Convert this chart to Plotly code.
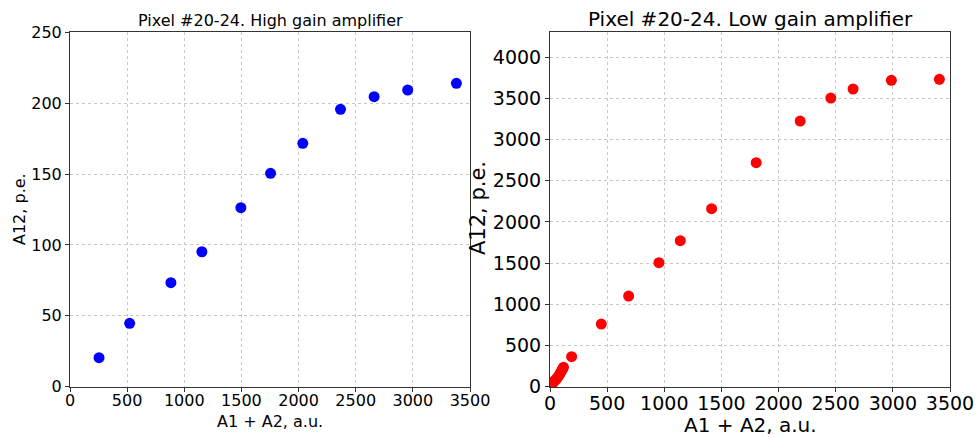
import plotly.graph_objects as go

# High gain amplifier data
hg_x = [254, 522, 883, 1154, 1495, 1755, 2037, 2367, 2661, 2955, 3381]
hg_y = [20.5, 44.7, 73.4, 95.2, 126.3, 150.5, 171.7, 195.7, 204.6, 209.3, 214.0]

# Low gain amplifier data
lg_x = [5, 12, 20, 30, 40, 50, 60, 70, 80, 90, 100, 110, 118,
        189, 449, 688, 953, 1140, 1414, 1804, 2189, 2457, 2652, 2987, 3407]
lg_y = [10, 25, 40, 55, 70, 85, 100, 120, 140, 165, 190, 215, 235,
        364, 760, 1100, 1505, 1772, 2160, 2718, 3223, 3502, 3612, 3717, 3729]

titles = ["Pixel #20-24. High gain amplifier", "Pixel #20-24. Low gain amplifier"]
x_label = "A1 + A2, a.u."
y_label = "A12, p.e."

W, H = 978, 438
FONT = "DejaVu Sans"

fig = go.Figure()
fig.add_trace(go.Scatter(x=hg_x, y=hg_y, mode="markers",
                         marker=dict(color="#0000ff", size=11, line=dict(width=0)),
                         xaxis="x", yaxis="y", showlegend=False, cliponaxis=False))
fig.add_trace(go.Scatter(x=lg_x, y=lg_y, mode="markers",
                         marker=dict(color="#ff0000", size=11, line=dict(width=0)),
                         xaxis="x2", yaxis="y2", showlegend=False, cliponaxis=True))

ybot = 1 - 386.7 / H
ytop = 1 - 32.3 / H

common = dict(showline=True, mirror=True, linecolor="#333333", linewidth=1,
              ticks="outside", ticklen=4, tickcolor="#333333",
              showgrid=True, gridcolor="#c8c8c8", griddash="dot", gridwidth=1,
              zeroline=False, color="black", automargin=False)

fig.update_layout(
    width=W, height=H,
    margin=dict(l=0, r=0, t=0, b=0, autoexpand=False),
    paper_bgcolor="white", plot_bgcolor="white",
    font=dict(family=FONT, color="black"),
    xaxis=dict(domain=[70 / W, 470 / W], range=[0, 3500], dtick=500, tick0=0,
               anchor="y", tickfont=dict(size=16), ticklabelstandoff=-5, **common),
    yaxis=dict(domain=[ybot, ytop], range=[0, 250], dtick=50, tick0=0,
               anchor="x", tickfont=dict(size=16), **common),
    xaxis2=dict(domain=[550 / W, 950 / W], range=[0, 3500], dtick=500, tick0=0,
                anchor="y2", tickfont=dict(size=19), ticklabelstandoff=-5, **common),
    yaxis2=dict(domain=[ybot, ytop], range=[0, 4300], dtick=500, tick0=0,
                anchor="x2", tickfont=dict(size=19), **common),
)

ann = [
    dict(text=titles[0], x=270 / W, y=1 - 20 / H, font=dict(size=16)),
    dict(text=titles[1], x=750 / W, y=1 - 19 / H, font=dict(size=20)),
    dict(text=x_label, x=270 / W, y=1 - 421 / H, font=dict(size=16)),
    dict(text=x_label, x=750 / W, y=1 - 425 / H, font=dict(size=20)),
    dict(text=y_label, x=19 / W, y=1 - 209 / H, font=dict(size=16), textangle=-90),
    dict(text=y_label, x=478 / W, y=1 - 208 / H, font=dict(size=21), textangle=-90),
]
for a in ann:
    fig.add_annotation(xref="paper", yref="paper", xanchor="center", yanchor="middle",
                       showarrow=False, **a)

fig.write_html("out.html")
